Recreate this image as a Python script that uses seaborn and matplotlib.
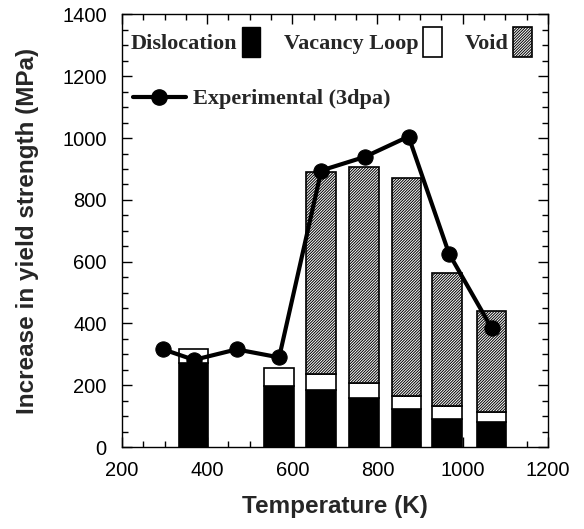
import numpy as np
import pandas as pd
import matplotlib
matplotlib.use("Agg")
import matplotlib.pyplot as plt
from matplotlib.patches import Patch
from matplotlib.lines import Line2D
from matplotlib.ticker import MultipleLocator
import seaborn as sns

# bar data (calculated contributions)
temps_bar = [368, 568, 668, 768, 868, 963, 1068]
dislocation = [271, 196, 183, 158, 124, 92, 81]
vacancy_loop = [47, 59, 52, 48, 42, 40, 31]
void = [0, 0, 656, 700, 706, 432, 329]

# experimental (3 dpa)
temps_exp = [297, 369, 469, 569, 668, 770, 873, 968, 1068]
exp_strength = [316, 282, 316, 290, 895, 939, 1005, 626, 385]

sns.set_style("ticks")
plt.rcParams["hatch.linewidth"] = 0.7

fig = plt.figure(figsize=(5.84, 5.29), dpi=100)
ax = fig.add_axes([0.209, 0.155, 0.729, 0.8176])

bar_w = 70
disl = np.array(dislocation)
vac = np.array(vacancy_loop)
vd = np.array(void)
hatch = "/" * 12

ax.bar(temps_bar, disl, width=bar_w, color="black", edgecolor="black", linewidth=1.2, zorder=2)
ax.bar(temps_bar, vac, width=bar_w, bottom=disl, color="white", edgecolor="black", linewidth=1.2, zorder=2)
has_void = vd > 0
ax.bar(np.array(temps_bar)[has_void], vd[has_void], width=bar_w, bottom=(disl + vac)[has_void],
       color="white", edgecolor="black", hatch=hatch, linewidth=1.2, zorder=2)

df_exp = pd.DataFrame({"T": temps_exp, "S": exp_strength})
sns.lineplot(data=df_exp, x="T", y="S", ax=ax, color="black", linewidth=3,
             marker="o", markersize=11, markeredgecolor="black", zorder=3)

ax.set_xlim(200, 1200)
ax.set_ylim(0, 1400)
ax.xaxis.set_major_locator(MultipleLocator(200))
ax.xaxis.set_minor_locator(MultipleLocator(50))
ax.yaxis.set_major_locator(MultipleLocator(200))
ax.yaxis.set_minor_locator(MultipleLocator(50))
ax.tick_params(which="both", direction="in", top=True, right=True, width=1, colors="black")
ax.tick_params(which="major", length=7, labelsize=14.5)
ax.tick_params(axis="y", which="major", pad=11)
ax.tick_params(axis="x", which="major", pad=10)
ax.tick_params(which="minor", length=4)
for s in ax.spines.values():
    s.set_linewidth(1)
    s.set_color("black")

lab_font = dict(family="Liberation Sans", fontweight="bold", fontsize=17.5)
ax.set_xlabel("Temperature (K)", labelpad=11, **lab_font)
ax.set_ylabel("Increase in yield strength (MPa)", labelpad=17, **lab_font)
for t in ax.get_xticklabels() + ax.get_yticklabels():
    t.set_family("Liberation Sans")

leg_font = {"family": "Liberation Serif", "weight": "bold", "size": 16}
h1 = [Patch(facecolor="black", edgecolor="black"),
      Patch(facecolor="white", edgecolor="black", linewidth=1.2),
      Patch(facecolor="white", edgecolor="black", hatch=hatch, linewidth=1.2)]
leg1 = ax.legend(h1, ["Dislocation", "Vacancy Loop", "Void"], ncol=3, markerfirst=False,
                 loc="upper left", bbox_to_anchor=(0.02, 0.972), frameon=False, prop=leg_font,
                 handlelength=0.85, handleheight=1.75, handletextpad=0.2, columnspacing=1.05,
                 borderaxespad=0, borderpad=0)
ax.add_artist(leg1)
h2 = [Line2D([], [], color="black", linewidth=3, marker="o", markersize=11)]
ax.legend(h2, ["Experimental (3dpa)"], loc="upper left", bbox_to_anchor=(0.025, 0.828),
          frameon=False, prop=leg_font, handlelength=2.4, handletextpad=0.3,
          borderaxespad=0, borderpad=0)

fig.savefig("out.png", dpi=100)
